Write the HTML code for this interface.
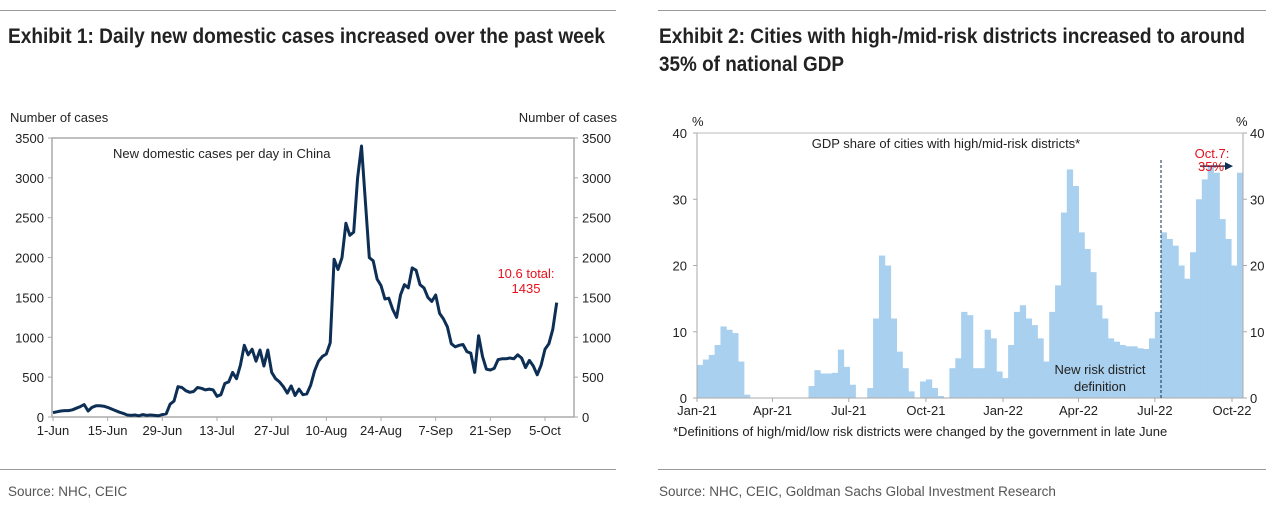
<!DOCTYPE html>
<html><head><meta charset="utf-8">
<style>
html,body{margin:0;padding:0;background:#fff;}
svg{display:block;font-family:"Liberation Sans",Arial,sans-serif;}
</style></head>
<body>
<svg id="root" width="1275" height="507" viewBox="0 0 1275 507" xmlns="http://www.w3.org/2000/svg">
  <line x1="0" y1="10.5" x2="616" y2="10.5" stroke="#999" stroke-width="1"/>
  <line x1="658" y1="10.5" x2="1266" y2="10.5" stroke="#999" stroke-width="1"/>
  <text x="8" y="43" font-size="21" font-weight="bold" fill="#222" textLength="597" lengthAdjust="spacingAndGlyphs">Exhibit 1: Daily new domestic cases increased over the past week</text>
  <text x="659" y="43" font-size="21" font-weight="bold" fill="#222" textLength="586" lengthAdjust="spacingAndGlyphs">Exhibit 2: Cities with high-/mid-risk districts increased to around</text>
  <text x="659" y="71" font-size="21" font-weight="bold" fill="#222" textLength="185" lengthAdjust="spacingAndGlyphs">35% of national GDP</text>
  <line x1="0" y1="469.5" x2="616" y2="469.5" stroke="#999" stroke-width="1"/>
  <line x1="658" y1="469.5" x2="1266" y2="469.5" stroke="#999" stroke-width="1"/>
  <text x="8" y="496" font-size="13.5" fill="#555">Source: NHC, CEIC</text>
  <text x="659" y="496" font-size="13.5" fill="#555">Source: NHC, CEIC, Goldman Sachs Global Investment Research</text>
  <g id="chart1"></g>
  <g id="chart2"></g>
</svg>
<script>
const casesValues = [55,65,75,80,80,90,110,130,155,75,120,140,140,135,
120,100,80,60,45,25,20,25,15,30,20,25,20,15,
30,40,160,200,380,370,330,310,320,370,360,340,350,340,
260,280,420,440,560,480,650,900,780,850,700,840,640,840,560,480,440,380,300,390,270,350,280,290,400,580,700,760,790,930,
1980,1850,2000,2430,2280,2320,3000,3400,2700,2000,1960,1730,1650,1480,1490,1350,1250,1530,1660,1620,1870,1840,1660,1620,1500,1450,1530,1300,1230,1130,920,880,900,910,820,800,560,1020,760,600,590,610,720,730,730,740,730,780,740,620,710,640,530,650,850,920,1100,1435];
const casesTicks = [0,500,1000,1500,2000,2500,3000,3500];
const casesDateLabels = ["1-Jun","15-Jun","29-Jun","13-Jul","27-Jul","10-Aug","24-Aug","7-Sep","21-Sep","5-Oct"];
const casesDateDays = [0,14,28,42,56,70,84,98,112,126];

const gdpWeekly = [5,5.8,6.5,8,10.8,10.3,9.8,5.5,0.5,0,0,0,0,0,0,0,0,0,0,1.8,4.2,3.7,3.7,3.8,7.3,4.7,2,0,0,1.5,12,21.5,20,12,7,4.5,1,0,2.5,2.8,1.5,0.3,0,4.5,6,13,12.5,4.5,4.5,10.3,9,4,3,8,13,14,12,11,9,5.5,13,17,28,34.5,32,25,22.5,19,14,12,9,8.5,8,7.8,7.8,7.5,7.4,9,13,25,24,23,20,18,22,30,33,35,34,27,24,20,34];
const gdpTicks = [0,10,20,30,40];
const gdpDateLabels = ["Jan-21","Apr-21","Jul-21","Oct-21","Jan-22","Apr-22","Jul-22","Oct-22"];
const gdpDateDays = [0,90,181,273,365,455,546,638];

const NS="http://www.w3.org/2000/svg";
function mk(parent,tag,attrs,text){const e=document.createElementNS(NS,tag);for(const k in attrs)e.setAttribute(k,attrs[k]);if(text!==undefined)e.textContent=text;parent.appendChild(e);return e;}

// Chart 1
(function(){
  const g=document.getElementById('chart1');
  const L=52,R=574,T=138,B=417;
  const x=d=>53+d*(545-53)/126;
  const y=v=>B-(v/3500)*(B-T);
  const fr=mk(g,'rect',{x:L,y:T,width:R-L,height:B-T,fill:'none',stroke:'#aaa','stroke-width':1.5});
  
  
  casesTicks.forEach(v=>{
    const a=mk(g,'text',{x:L-8,y:y(v)+5,'font-size':13,'text-anchor':'end',fill:'#222'},v);
    
    
    const b=mk(g,'text',{x:R+8,y:y(v)+5,'font-size':13,fill:'#222'},v);
    
    
    mk(g,'line',{x1:L-4,x2:L,y1:y(v),y2:y(v),stroke:'#aaa'});
    mk(g,'line',{x1:R,x2:R+4,y1:y(v),y2:y(v),stroke:'#aaa'});
  });
  casesDateLabels.forEach((s,i)=>{
    const t=mk(g,'text',{x:x(casesDateDays[i]),y:B+18,'font-size':13,'text-anchor':'middle',fill:'#222'},s);
    
    
    mk(g,'line',{x1:x(casesDateDays[i]),x2:x(casesDateDays[i]),y1:B,y2:B+4,stroke:'#aaa'});
  });
  let d='';
  casesValues.forEach((v,i)=>{d+=(i?'L':'M')+x(i).toFixed(1)+','+y(v).toFixed(1);});
  const p=mk(g,'path',{d:d,fill:'none',stroke:'#0d2f55','stroke-width':3,'stroke-linejoin':'round'});
  
  
  const t1=mk(g,'text',{x:10,y:122,'font-size':13,fill:'#222'},'Number of cases');
  
  
  const t2=mk(g,'text',{x:617,y:122,'font-size':13,'text-anchor':'end',fill:'#222'},'Number of cases');
  
  
  const t3=mk(g,'text',{x:113,y:158,'font-size':13,fill:'#222'},'New domestic cases per day in China');
  
  
  const t4=mk(g,'text',{x:526,y:278,'font-size':13,'text-anchor':'middle',fill:'#e8101a'},'10.6 total:');
  
  
  const t5=mk(g,'text',{x:526,y:293,'font-size':13,'text-anchor':'middle',fill:'#e8101a'},'1435');
  
  
})();

// Chart 2
(function(){
  const g=document.getElementById('chart2');
  const L=697,R=1243,T=133,B=398;
  const pxDay=(1232-697)/638;
  const x=d=>697+d*pxDay;
  const y=v=>B-(v/40)*(B-T);
  gdpWeekly.forEach((v,i)=>{
    if(v<=0)return;
    const r=mk(g,'rect',{x:x(i*7).toFixed(2),y:y(v).toFixed(2),width:(7*pxDay+0.4).toFixed(2),height:(B-y(v)).toFixed(2),fill:'#a9d0ee'});
    
    
  });
  mk(g,'line',{x1:L,x2:R,y1:T,y2:T,stroke:'#bbb'});
  mk(g,'line',{x1:L,x2:L,y1:T,y2:B,stroke:'#aaa'});
  mk(g,'line',{x1:R,x2:R,y1:T,y2:B,stroke:'#aaa'});
  mk(g,'line',{x1:L,x2:R,y1:B,y2:B,stroke:'#aaa'});
  gdpTicks.forEach(v=>{
    const a=mk(g,'text',{x:L-10,y:y(v)+5,'font-size':13,'text-anchor':'end',fill:'#222'},v);
    
    
    const b=mk(g,'text',{x:R+7,y:y(v)+5,'font-size':13,fill:'#222'},v);
    
    
    mk(g,'line',{x1:L-4,x2:L,y1:y(v),y2:y(v),stroke:'#aaa'});
    mk(g,'line',{x1:R,x2:R+4,y1:y(v),y2:y(v),stroke:'#aaa'});
  });
  gdpDateLabels.forEach((s,i)=>{
    const t=mk(g,'text',{x:x(gdpDateDays[i]),y:B+17,'font-size':13,'text-anchor':'middle',fill:'#222'},s);
    
    
    mk(g,'line',{x1:x(gdpDateDays[i]),x2:x(gdpDateDays[i]),y1:B,y2:B+4,stroke:'#aaa'});
  });
  const dl=mk(g,'line',{x1:1161,x2:1161,y1:160,y2:B,stroke:'#0d2f55','stroke-width':1,'stroke-dasharray':'3,2'});
  
  
  const ar=mk(g,'line',{x1:1200,x2:1226,y1:y(35),y2:y(35),stroke:'#0d2f55','stroke-width':1.5});
  
  
  mk(g,'polygon',{points:`1225,${y(35)-4} 1233,${y(35)} 1225,${y(35)+4}`,fill:'#0d2f55'});
  const lab=[['%',692,126,'start','left-y-unit','#222'],['%',1236,126,'start','right-y-unit','#222'],
    ['GDP share of cities with high/mid-risk districts*',946,148,'middle','series-label','#222'],
    ['Oct.7:',1212,158,'middle','latest-annotation','#e8101a'],['35%',1211,171,'middle','latest-annotation-value','#e8101a'],
    ['New risk district',1100,374,'middle','definition-label','#222'],['definition',1100,391,'middle','definition-label-line2','#222'],
    ['*Definitions of high/mid/low risk districts were changed by the government in late June',673,436,'start','footnote','#222']];
  lab.forEach(l=>{
    const t=mk(g,'text',{x:l[1],y:l[2],'font-size':13,'text-anchor':l[3],fill:l[5]},l[0]);
    
    
  });
})();
</script>
</body></html>
